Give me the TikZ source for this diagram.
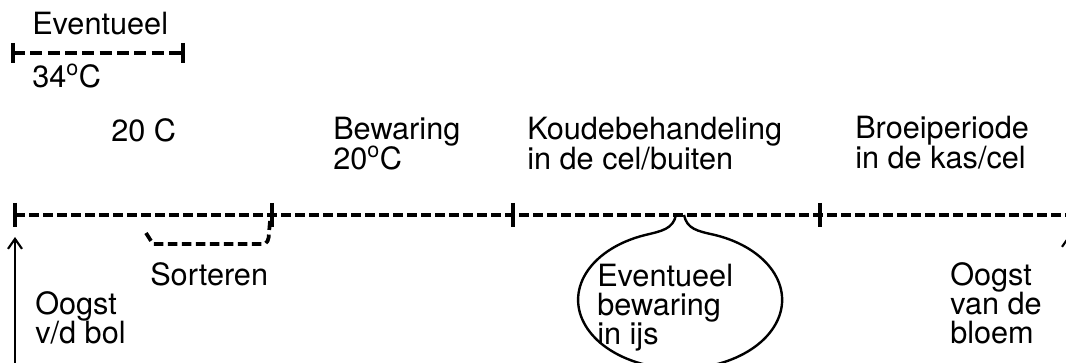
\documentclass[tikz,border=0pt]{standalone}
\usepackage{fontspec}
\setmainfont{TeX Gyre Heros}
\usetikzlibrary{arrows.meta}

% lines of a label, first baseline on the node's base
\newcommand{\stacked}[1]{\vtop{\lineskiplimit=-30pt\halign{##\hfil\cr#1\crcr}}}

\tikzset{
  txt/.style={anchor=base west, inner sep=0pt, font=\fontsize{23}{22}\selectfont},
  timeline/.style={line width=2.8pt, dash pattern={on 7.5pt off 3pt}},
  tick/.style={line width=3.4pt},
  harvest/.style={line width=1.6pt, -{Straight Barb[length=7.5pt, width=10.5pt, line width=1.6pt]}},
}

\begin{document}
\begin{tikzpicture}[x=0.75pt,y=0.75pt,yscale=-1,xscale=1]
        \useasboundingbox (0,0) rectangle (1066,363);

        % ticks on the time line
        \coordinate (t0) at (15,215);
        \coordinate (t1) at (272,215);
        \coordinate (t2) at (513,215);
        \coordinate (t3) at (820,215);
        \coordinate (tend) at (1075,215);
        % optional 34 C bar
        \coordinate (b0) at (13,53);
        \coordinate (b1) at (183,53);

        %Straight Lines
        \draw [timeline] (t0) -- (tend) ;
        \foreach \t in {t0,t1,t2,t3}
          \draw [tick] (\t) ++(0,-12) -- ++(0,24) ;
        %Straight Lines
        \draw [line width=2.8pt, dash pattern={on 9pt off 4pt}] (b0) -- (b1) ;
        \foreach \t in {b0,b1}
          \draw [tick] (\t) ++(0,-10) -- ++(0,20) ;

        %Sorteren bracket
        \draw [line width=2.8pt, dash pattern={on 7pt off 3.5pt}, line join=round]
          (146,233) -- (153,244) -- (263,244) .. controls (267,244) and (269,240) .. (269,233) -- (270,221) ;

        %Arrows
        \coordinate (bulbfoot) at (15,380);
        \coordinate (bulbtip) at (15,237);
        \coordinate (flowerfoot) at (1069,380);
        \coordinate (flowertip) at (1069,235);
        \draw [harvest] (bulbfoot) -- (bulbtip) ;
        \draw [harvest] (flowerfoot) -- (flowertip) ;

        %Balloon
        \draw [line width=1.8pt, line join=round]
          (715,235) arc [start angle=-70, end angle=250, x radius=102, y radius=69]
          .. controls (662,231) and (673,229) .. (676,215)
          (684,215) .. controls (687,229) and (697,231) .. (715,235) ;

        % Text Node
        \node [txt] (opt) at (32,35) {Eventueel};
        % Text Node
        \node [txt] (optT) at (32,88) {34\textsuperscript{o}C};
        % Text Node
        \node [txt] (dry) at (111,142) {20 C};
        % Text Node
        \node [txt] (store) at (333,140) {\stacked{Bewaring\cr 20\textsuperscript{o}C}};
        % Text Node
        \node [txt] (cold) at (527,140) {\stacked{Koudebehandeling\cr in de cel/buiten}};
        % Text Node
        \node [txt] (forcing) at (855,139) {\stacked{Broeiperiode\cr in de kas/cel}};
        % Text Node
        \node [txt] (sort) at (150,285) {Sorteren};
        % Text Node
        \node [txt] (bulb) at (35,314) {\stacked{Oogst\cr v/d bol}};
        % Text Node
        \node [txt] (ice) at (597,286) {\stacked{Eventueel\cr bewaring\cr in ijs}};
        % Text Node
        \node [txt] (flower) at (950,285) {\stacked{Oogst\cr van de\cr bloem}};

\end{tikzpicture}
\end{document}
